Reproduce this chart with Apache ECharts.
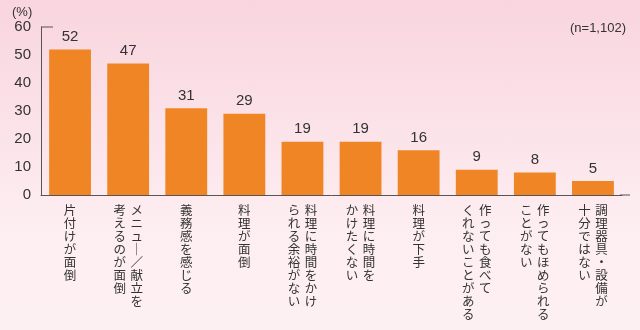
<!DOCTYPE html>
<html><head><meta charset="utf-8">
<script src="https://cdn.jsdelivr.net/npm/echarts@6/dist/echarts.min.js"></script>
<style>html,body{margin:0;padding:0;}#c{width:640px;height:330px;background:linear-gradient(#f9d5de,#fdeef1 70%,#fdf0f3);}</style>
</head><body><div id="c"></div>
<script>
// Category labels: each is a list of columns (first line = rightmost column), written vertically
const categories = [
  ["片付けが面倒"],
  ["メニュ｜／献立を", "考えるのが面倒"],
  ["義務感を感じる"],
  ["料理が面倒"],
  ["料理に時間をかけ", "られる余裕がない"],
  ["料理に時間を", "かけたくない"],
  ["料理が下手"],
  ["作っても食べて", "くれないことがある"],
  ["作ってもほめられる", "ことがない"],
  ["調理器具・設備が", "十分ではない"]
];
const values = [52, 47, 31, 29, 19, 19, 16, 9, 8, 5];
const yTicks = [0, 10, 20, 30, 40, 50, 60];
const unitLabel = "(%)";
const sampleNote = "(n=1,102)";

function verticalLabel(cols) {
  const arr = cols.map(c => Array.from(c));
  const n = Math.max(...arr.map(a => a.length));
  const lines = [];
  for (let i = 0; i < n; i++) {
    const parts = [];
    for (let k = arr.length - 1; k >= 0; k--) {
      const ch = arr[k][i] || "　";
      parts.push("{c|" + ch + "}");
      if (k > 0) parts.push("{g|}");
    }
    lines.push(parts.join(""));
  }
  return lines.join("\n");
}

const chart = echarts.init(document.getElementById('c'), null, {renderer: 'canvas'});
const font = '"Noto Sans CJK JP", "Noto Sans", sans-serif';
chart.setOption({
  backgroundColor: 'transparent',
  textStyle: {fontFamily: font},
  grid: {left: 41, right: 18, top: 27, bottom: 135, containLabel: false},
  xAxis: {
    type: 'category',
    data: categories.map((c, i) => String(i)),
    axisLine: {lineStyle: {color: '#555', width: 1}},
    axisTick: {show: false},
    axisLabel: {
      interval: 0, margin: 9, color: '#333',
      formatter: (v) => verticalLabel(categories[+v]),
      verticalAlign: 'top',
      lineHeight: 13,
      rich: {
        c: {fontSize: 12.5, width: 13, align: 'center', lineHeight: 13, color: '#333', fontFamily: font},
        g: {width: 4}
      }
    }
  },
  yAxis: {
    type: 'value', min: yTicks[0], max: yTicks[yTicks.length - 1], interval: 10,
    axisLine: {show: true, lineStyle: {color: '#555', width: 1}},
    axisTick: {show: false},
    splitLine: {show: false},
    axisLabel: {color: '#333', fontSize: 15, margin: 10, fontFamily: '"Liberation Sans", Arial, sans-serif'}
  },
  series: [{
    type: 'bar',
    data: values,
    barWidth: '72%',
    itemStyle: {color: '#f08526'},
    label: {show: true, position: 'top', distance: 5, color: '#333', fontSize: 15,
            fontFamily: '"Liberation Sans", Arial, sans-serif'}
  }]
});

// Decorations: unit label, sample note, top bracket tick, axis line extension
const yTopPx = chart.convertToPixel({yAxisIndex: 0}, yTicks[yTicks.length - 1]);
const yZeroPx = chart.convertToPixel({yAxisIndex: 0}, yTicks[0]);
chart.setOption({
  graphic: [
    {type: 'text', left: 12, top: yTopPx - 21,
     style: {text: unitLabel, fontSize: 13, fill: '#333', fontFamily: '"Liberation Sans", Arial, sans-serif'}},
    {type: 'text', right: 14, top: 22,
     style: {text: sampleNote, fontSize: 13, fill: '#333', fontFamily: '"Liberation Sans", Arial, sans-serif'}},
    {type: 'line', shape: {x1: 41, y1: yTopPx, x2: 53, y2: yTopPx}, style: {stroke: '#555', lineWidth: 1}},
    {type: 'line', shape: {x1: 620, y1: yZeroPx, x2: 630, y2: yZeroPx}, style: {stroke: '#555', lineWidth: 1}}
  ]
});
</script></body></html>
